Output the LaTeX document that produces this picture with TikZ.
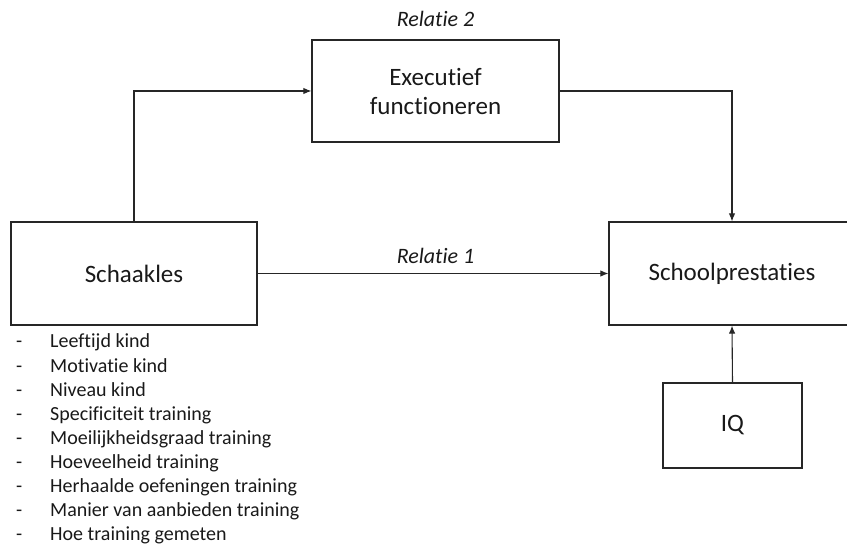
\documentclass[tikz,border=0pt]{standalone}
\usepackage{fontspec}
\setmainfont{Carlito}[Ligatures=NoCommon]
\usetikzlibrary{arrows.meta, positioning}
\tikzset{
  box/.style={% Style for the boxes
      rectangle, line width=1.2pt,
      draw=black!85,
      align=center,
      text=black!90,
      font=\fontsize{25}{29}\selectfont,
      inner sep=0pt,
  },
  rel/.style={% Style for relation labels
      font=\fontsize{22}{26}\selectfont\itshape,
      text=black!90,
  },
  item/.style={
      anchor=base west,
      font=\fontsize{20}{24}\selectfont,
      text=black!90,
      inner sep=0pt,
  },
  link/.style={->,>={Latex[length=8pt,width=6.5pt]}, line width=1.1pt, draw=black!85},
}
\begin{document}
\begin{tikzpicture}[x=1pt, y=-1pt]
    \useasboundingbox (0,0) rectangle (847,548);
    \node[box, minimum width=246pt, minimum height=103pt] (schaakles) at (134,273.5) {Schaakles};
    \node[box, minimum width=247pt, minimum height=102pt] (executief) at (435.5,91) {Executief\\functioneren};
    \node[box, minimum width=246pt, minimum height=103pt] (school) at (732,273.5) {Schoolprestaties};
    \node[box, minimum width=139pt, minimum height=85pt] (iq) at (732.5,425.5) {IQ};
    % relation labels
    \node[rel] (rel2) at (435.5,19) {Relatie 2};
    \node[rel] (rel1) at (435.5,256) {Relatie 1};
    % connectors
    \draw[link] (schaakles.north) |- (executief.west);
    \draw[link] (executief.east) -| (school.north);
    \draw[link] (schaakles.east) -- (school.west);
    \draw[link] (iq.north) -- (school.south);
    % list of factors
    \foreach \txt [count=\i] in {Leeftijd kind, Motivatie kind, Niveau kind,
        Specificiteit training, Moeilijkheidsgraad training, Hoeveelheid training,
        Herhaalde oefeningen training, Manier van aanbieden training, Hoe training gemeten} {
      \node[item] (dash\i) at (16,{348+(\i-1)*24.1}) {-};
      \node[item] (item\i) at (50,{348+(\i-1)*24.1}) {\txt};
    }
\end{tikzpicture}
\end{document}
